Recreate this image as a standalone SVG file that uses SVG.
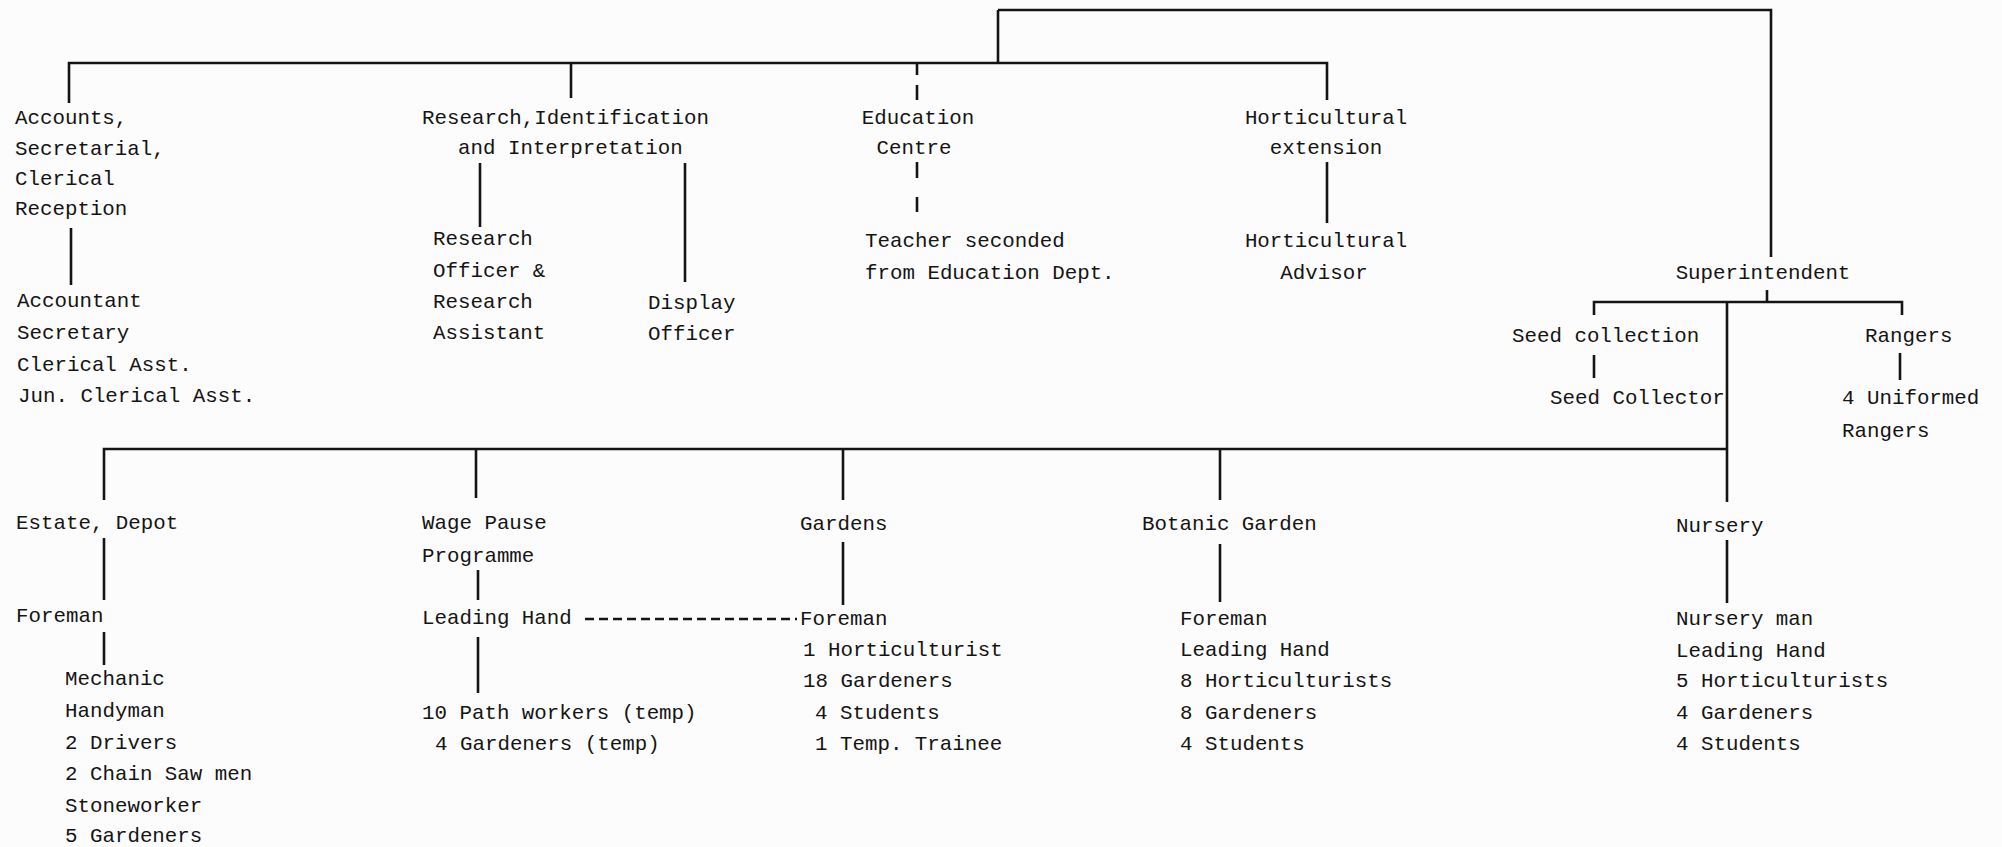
<svg xmlns="http://www.w3.org/2000/svg" width="2002" height="847" viewBox="0 0 2002 847">
<style>
text{font-family:"Liberation Mono","DejaVu Sans Mono",monospace;font-size:20.8px;fill:#141414}
.m{text-anchor:middle}
.ln{stroke:#141414;stroke-width:2.6;fill:none;stroke-linecap:butt}
.dl{stroke:#141414;stroke-width:2.4;fill:none;stroke-dasharray:9 5}
</style>
<rect width="2002" height="847" fill="#fcfcfc"/>
<g id="connectors">
<path class="ln" d="M998 10H1771V257"/>
<path class="ln" d="M998 10V63"/>
<path class="ln" d="M69 103V63H1327V100"/>
<path class="ln" d="M571 63V98"/>
<path class="ln" d="M917 63V75M917 85V100M917 162V178M917 197V212"/>
<path class="ln" d="M71 228V285"/>
<path class="ln" d="M480 163V227"/>
<path class="ln" d="M685 163V282"/>
<path class="ln" d="M1327 162V223"/>
<path class="ln" d="M1767 290V302"/>
<path class="ln" d="M1594 315V302H1902V315"/>
<path class="ln" d="M1594 355V378"/>
<path class="ln" d="M1900 353V380"/>
<path class="ln" d="M1727 302V502"/>
<path class="ln" d="M104 500V449H1727"/>
<path class="ln" d="M476 449V498"/>
<path class="ln" d="M843 449V500"/>
<path class="ln" d="M1220 449V500"/>
<path class="ln" d="M104 538V600"/>
<path class="ln" d="M104 632V665"/>
<path class="ln" d="M478 570V600"/>
<path class="ln" d="M478 637V693"/>
<path class="ln" d="M843 542V605"/>
<path class="ln" d="M1220 544V602"/>
<path class="ln" d="M1727 540V603"/>
<path class="dl" d="M585 619H797"/>
</g>
<g id="accounts">
<text x="15" y="124">Accounts,</text>
<text x="15" y="155">Secretarial,</text>
<text x="15" y="185">Clerical</text>
<text x="15" y="215">Reception</text>
</g>
<g id="accounts-staff">
<text x="17" y="307">Accountant</text>
<text x="17" y="339">Secretary</text>
<text x="17" y="371">Clerical Asst.</text>
<text x="18" y="402">Jun. Clerical Asst.</text>
</g>
<g id="research">
<text x="422" y="124">Research,Identification</text>
<text x="458" y="154">and Interpretation</text>
</g>
<g id="research-officer">
<text x="433" y="245">Research</text>
<text x="433" y="277">Officer &amp;</text>
<text x="433" y="308">Research</text>
<text x="433" y="339">Assistant</text>
</g>
<g id="display-officer">
<text x="648" y="309">Display</text>
<text x="648" y="340">Officer</text>
</g>
<g id="education">
<text class="m" x="918" y="124">Education</text>
<text class="m" x="914" y="154">Centre</text>
</g>
<g id="teacher">
<text x="865" y="247">Teacher seconded</text>
<text x="865" y="279">from Education Dept.</text>
</g>
<g id="hort-extension">
<text class="m" x="1326" y="124">Horticultural</text>
<text class="m" x="1326" y="154">extension</text>
</g>
<g id="hort-advisor">
<text class="m" x="1326" y="247">Horticultural</text>
<text class="m" x="1324" y="279">Advisor</text>
</g>
<g id="superintendent">
<text class="m" x="1763" y="279">Superintendent</text>
</g>
<g id="seed-collection">
<text x="1512" y="342">Seed collection</text>
</g>
<g id="seed-collector">
<text x="1550" y="404">Seed Collector</text>
</g>
<g id="rangers">
<text x="1865" y="342">Rangers</text>
</g>
<g id="uniformed-rangers">
<text x="1842" y="404">4 Uniformed</text>
<text x="1842" y="437">Rangers</text>
</g>
<g id="estate">
<text x="16" y="529">Estate, Depot</text>
</g>
<g id="estate-foreman">
<text x="16" y="622">Foreman</text>
</g>
<g id="estate-staff">
<text x="65" y="685">Mechanic</text>
<text x="65" y="717">Handyman</text>
<text x="65" y="749">2 Drivers</text>
<text x="65" y="780">2 Chain Saw men</text>
<text x="65" y="812">Stoneworker</text>
<text x="65" y="842">5 Gardeners</text>
</g>
<g id="wage-pause">
<text x="422" y="529">Wage Pause</text>
<text x="422" y="562">Programme</text>
</g>
<g id="wage-leading-hand">
<text x="422" y="624">Leading Hand</text>
</g>
<g id="wage-staff">
<text x="422" y="719">10 Path workers (temp)</text>
<text x="435" y="750">4 Gardeners (temp)</text>
</g>
<g id="gardens">
<text x="800" y="530">Gardens</text>
</g>
<g id="gardens-staff">
<text x="800" y="625">Foreman</text>
<text x="803" y="656">1 Horticulturist</text>
<text x="803" y="687">18 Gardeners</text>
<text x="815" y="719">4 Students</text>
<text x="815" y="750">1 Temp. Trainee</text>
</g>
<g id="botanic-garden">
<text x="1142" y="530">Botanic Garden</text>
</g>
<g id="botanic-staff">
<text x="1180" y="625">Foreman</text>
<text x="1180" y="656">Leading Hand</text>
<text x="1180" y="687">8 Horticulturists</text>
<text x="1180" y="719">8 Gardeners</text>
<text x="1180" y="750">4 Students</text>
</g>
<g id="nursery">
<text x="1676" y="532">Nursery</text>
</g>
<g id="nursery-staff">
<text x="1676" y="625">Nursery man</text>
<text x="1676" y="657">Leading Hand</text>
<text x="1676" y="687">5 Horticulturists</text>
<text x="1676" y="719">4 Gardeners</text>
<text x="1676" y="750">4 Students</text>
</g>
</svg>
